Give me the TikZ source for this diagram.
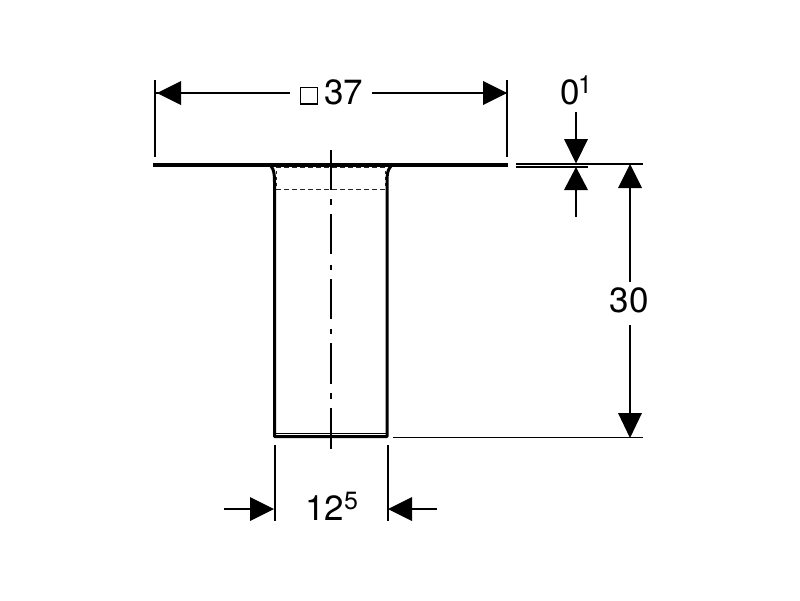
\documentclass[tikz,border=0pt]{standalone}
\usepackage{fontspec}
\setmainfont{TeX Gyre Heros}
\tikzset{
  dimline/.style={line width=1.6pt,black},
  thinline/.style={line width=1pt,black},
  thick outline/.style={line width=3pt,black},
  hidden/.style={line width=1pt,black!85,dash pattern=on 5pt off 3pt},
  centreline/.style={line width=1.6pt,black},
  arrowhead/.style={fill=black,draw=none},
  dimtext/.style={inner sep=0pt,font=\fontsize{35}{35}\selectfont},
  supertext/.style={inner sep=0pt,font=\fontsize{25}{25}\selectfont}
}
\begin{document}
\begin{tikzpicture}[x=1pt,y=-1pt]
\useasboundingbox (0,0) rectangle (800,600);
\fill[white] (0,0) rectangle (800,600);
% body
\draw[hidden] (276,189) -- (386,189);
\draw[hidden] (276,167.5) -- (386,167.5);
\draw[hidden,line width=.8pt,dash pattern=on 3pt off 3pt] (276.5,171) -- (276.5,187);
\draw[hidden,line width=.8pt,dash pattern=on 3pt off 3pt] (385,171) -- (385,187);
\draw[thick outline,line width=3.6pt] (153,165) -- (508,165);
\draw[thick outline,line cap=round,line join=round]
  (271,166) .. controls (274,170) and (274.5,174) .. (274.5,182) -- (274.5,436.5) -- (387,436.5) -- (387,182)
  .. controls (387,174) and (387.5,170) .. (391,166);
\draw[thinline] (275,433) -- (387,433);
% centre line
\draw[centreline] (331,150) -- (331,190);
\draw[centreline] (331,199) -- (331,205);
\draw[centreline] (331,214) -- (331,254);
\draw[centreline] (331,265) -- (331,270);
\draw[centreline] (331,279) -- (331,319);
\draw[centreline] (331,329) -- (331,334);
\draw[centreline] (331,343) -- (331,384);
\draw[centreline] (331,393) -- (331,399);
\draw[centreline] (331,408) -- (331,449);
% top dimension
\coordinate (tl) at (155,93);
\coordinate (tr) at (507,93);
\draw[dimline] (155,80) -- (155,157);
\draw[dimline] (507,80) -- (507,157);
\draw[dimline] (tl) -- (290,93);
\draw[dimline] (372,93) -- (tr);
\fill[arrowhead] (157,93) -- (181,81) -- (181,105) -- cycle;
\fill[arrowhead] (507,93) -- (483,81) -- (483,105) -- cycle;
\draw[line width=1.3pt] (300.5,87.5) rectangle (317.5,104);
\node[dimtext,anchor=base west] (t37) at (324,104) {37};
% thickness dimension
\draw[dimline] (516,164) -- (643,164);
\draw[dimline] (516,167) -- (588,167);
\draw[dimline] (576,112) -- (576,140);
\fill[arrowhead] (576,163.5) -- (564,139) -- (588,139) -- cycle;
\fill[arrowhead] (576,167) -- (564,190) -- (588,190) -- cycle;
\draw[dimline] (576,190) -- (576,217);
\node[dimtext,anchor=base west] (t0) at (560,104) {0};
\node[supertext,anchor=base west] (t01) at (578,93) {1};
% height dimension
\draw[dimline] (630,188) -- (630,282);
\draw[dimline] (630,325) -- (630,414);
\fill[arrowhead] (630,164) -- (618,188) -- (642,188) -- cycle;
\fill[arrowhead] (630,438) -- (618,413) -- (642,413) -- cycle;
\draw[dimline] (393,437.5) -- (643,437.5);
\node[dimtext,anchor=base] (t30) at (629,312) {30};
% width dimension
\draw[dimline] (275,445) -- (275,521);
\draw[dimline] (388,445) -- (388,521);
\draw[dimline] (224,509) -- (252,509);
\draw[dimline] (411,509) -- (437,509);
\fill[arrowhead] (274,509) -- (250,497) -- (250,521) -- cycle;
\fill[arrowhead] (388,509) -- (412,497) -- (412,521) -- cycle;
\node[dimtext,anchor=base west] (t12) at (305,520.5) {12};
\node[supertext,anchor=base west] (t5) at (344,509) {5};
\end{tikzpicture}
\end{document}
